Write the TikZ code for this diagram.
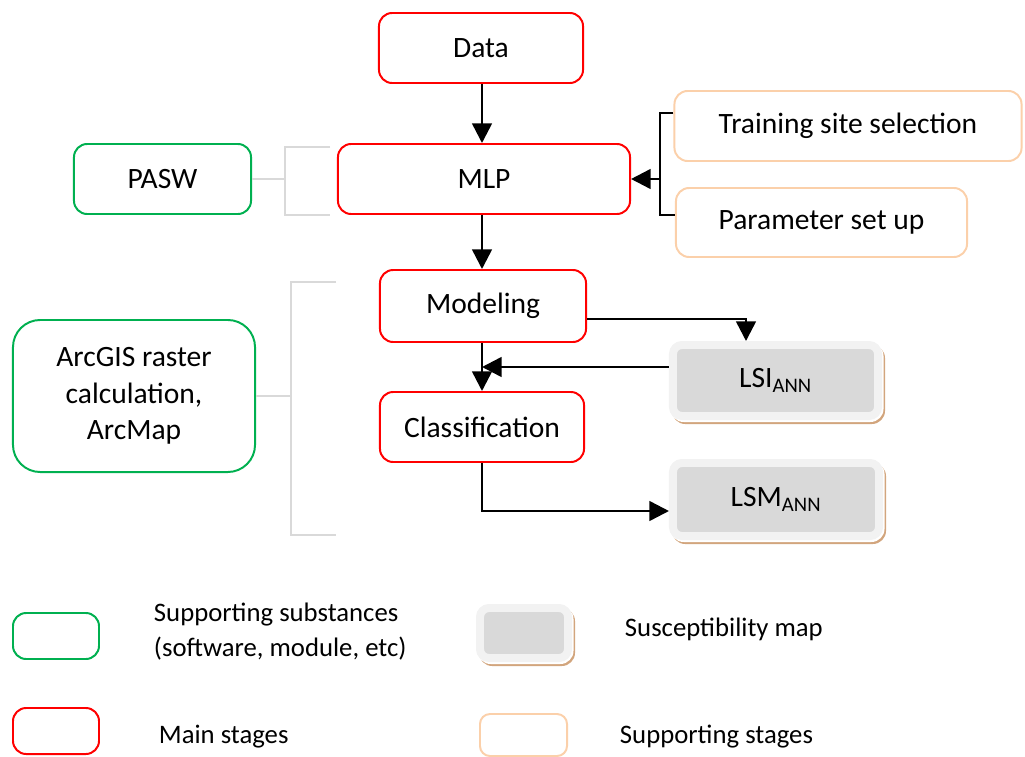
\documentclass[tikz,border=0pt]{standalone}
\usepackage{fontspec}
\setmainfont{Carlito}
\usepackage{tikz}
\usetikzlibrary{calc,arrows.meta,backgrounds}

\definecolor{stagered}{RGB}{255,0,0}
\definecolor{softgreen}{RGB}{0,176,80}
\definecolor{peach}{RGB}{251,208,170}
\definecolor{bracketgray}{RGB}{217,217,217}
\definecolor{mapouter}{RGB}{242,242,242}
\definecolor{mapinner}{RGB}{217,217,217}
\definecolor{maptan}{RGB}{210,165,125}

\tikzset{
  mainstage/.style={draw=stagered,line width=1.4pt,rounded corners=0.33cm,align=center,font=\fontsize{21}{26}\selectfont},
  software/.style={draw=softgreen,line width=1.4pt,rounded corners=0.33cm,align=center,font=\fontsize{21}{26}\selectfont},
  substage/.style={draw=peach,line width=1.4pt,rounded corners=0.33cm,align=center,font=\fontsize{21}{26}\selectfont},
  mapbox/.style={draw=mapouter,line width=5.67pt,fill=mapinner,rounded corners=0.225cm,align=center,font=\fontsize{21}{26}\selectfont},
  legendtext/.style={anchor=west,align=left,font=\fontsize{19}{24.8}\selectfont},
  bracket/.style={draw=bracketgray,line width=1.4pt},
  flowarrow/.style={line width=1.8pt,-{Triangle[length=14pt,width=14pt]}},
  flowline/.style={line width=1.8pt}
}

\begin{document}
\begin{tikzpicture}[x=0.025cm,y=-0.025cm]
\useasboundingbox (0,0) rectangle (1025,756);

% main stages
\node[mainstage,minimum width=5.1cm,minimum height=1.75cm] (data) at (481,48) {Data};
\node[mainstage,minimum width=7.3cm,minimum height=1.75cm] (mlp) at (484,179) {MLP};
\node[mainstage,minimum width=5.15cm,minimum height=1.8cm] (model) at (483,306) {Modeling};
\node[mainstage,minimum width=5.1cm,minimum height=1.75cm] (classif) at (482,427) {Classification};

% supporting stages
\node[substage,minimum width=8.675cm,minimum height=1.75cm] (train) at (848,126) {Training site selection};
\node[substage,minimum width=7.275cm,minimum height=1.725cm] (param) at (821.5,222.5) {Parameter set up};

% software
\node[software,minimum width=4.425cm,minimum height=1.75cm] (pasw) at (162.5,179) {PASW};
\node[software,rounded corners=0.68cm,minimum width=6.05cm,minimum height=3.8cm] (arcgis) at (134,396) {ArcGIS raster\\calculation,\\ArcMap};

% maps
\node[mapbox,minimum width=5.125cm,minimum height=1.775cm] (lsi) at (775.5,380.5) {LSI\textsubscript{ANN}};
\node[mapbox,minimum width=5.15cm,minimum height=1.825cm] (lsm) at (776,499.5) {LSM\textsubscript{ANN}};

% legend
\node[software,minimum width=2.15cm,minimum height=1.15cm] (leggreen) at (56,636) {};
\node[mainstage,minimum width=2.15cm,minimum height=1.15cm] (legred) at (56,731) {};
\node[mapbox,minimum width=2.2cm,minimum height=1.25cm] (leggray) at (524,633) {};
\node[substage,rounded corners=0.25cm,minimum width=2.175cm,minimum height=1.05cm] (legpeach) at (523.5,735) {};
\node[legendtext] (txtgreen) at (149,632) {Supporting substances\\(software, module, etc)};
\node[legendtext] (txtred) at (154,737) {Main stages};
\node[legendtext] (txtgray) at (620,629) {Susceptibility map};
\node[legendtext] (txtpeach) at (615,737) {Supporting stages};

% shadows of the map boxes
\begin{scope}[on background layer]
  \foreach \m in {lsi,lsm,leggray}{
    \fill[maptan,rounded corners=0.33cm] ([shift={(3,4)}]\m.south west) rectangle ([shift={(3,4)}]\m.north east);
    \fill[white,rounded corners=0.33cm] ([shift={(1.5,2)}]\m.south west) rectangle ([shift={(1.5,2)}]\m.north east);
  }
\end{scope}

% gray brackets
\coordinate (pt) at (285,147);
\coordinate (pb) at (285,215);
\coordinate (pte) at (330,147);
\coordinate (pbe) at (330,215);
\coordinate (at) at (291,282);
\coordinate (ab) at (291,535);
\coordinate (ate) at (336,282);
\coordinate (abe) at (336,535);
\draw[bracket] (pte) -- (pt) -- (pb) -- (pbe);
\draw[bracket] (pasw.east) -- (pasw.east -| pt);
\draw[bracket] (ate) -- (at) -- (ab) -- (abe);
\draw[bracket] (arcgis.east) -- (arcgis.east -| at);

% flow
\coordinate (tb) at (660,113);
\coordinate (bb) at (660,215);
\coordinate (ml) at (746,319);
\coordinate (jn) at (482,367);
\coordinate (cl) at (482,511);
\draw[flowarrow] (data.south -| jn) -- (mlp.north -| jn);
\draw[flowarrow] (mlp.south -| jn) -- (model.north -| jn);
\draw[flowline] (train.west |- tb) -- (tb) -- (bb) -- (param.west |- bb);
\draw[flowarrow] (tb |- mlp.east) -- (mlp.east);
\draw[flowarrow] (model.east |- ml) -- (ml) -- (lsi.north -| ml);
\draw[flowarrow] (lsi.west |- jn) -- (jn);
\draw[flowarrow] (model.south -| jn) -- (classif.north -| jn);
\draw[flowarrow] (classif.south -| cl) -- (cl) -- (lsm.west |- cl);
\end{tikzpicture}
\end{document}
